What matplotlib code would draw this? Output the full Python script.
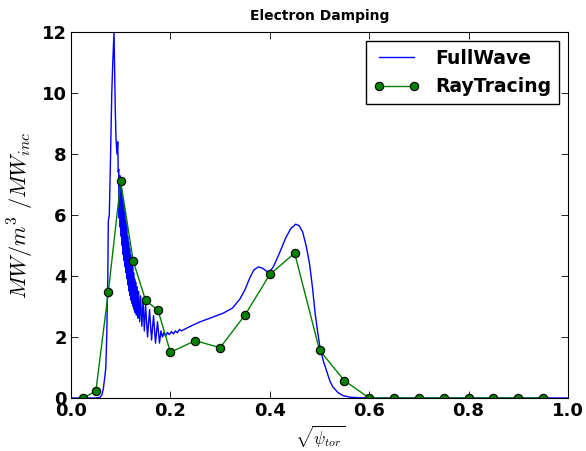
import matplotlib
matplotlib.use('Agg')
import matplotlib.pyplot as plt

plt.rcParams['mathtext.fontset'] = 'cm'

# full-wave power deposition profile (sqrt(psi_tor), MW/m^3/MW_inc)
fw_x = [0.0, 0.05, 0.058, 0.062, 0.065, 0.068, 0.070, 0.072, 0.073, 0.074,
        0.075, 0.077, 0.079, 0.082, 0.084, 0.0865, 0.089, 0.0905, 0.0925, 0.094,
        0.095,
        0.096, 0.097, 0.098, 0.099, 0.100, 0.101, 0.102, 0.103, 0.104, 0.105,
        0.106, 0.107, 0.108, 0.109, 0.110, 0.111, 0.112, 0.113, 0.114, 0.115,
        0.116, 0.117, 0.118, 0.119, 0.120, 0.121, 0.122, 0.123, 0.124, 0.125,
        0.126, 0.127, 0.128, 0.129, 0.130, 0.1315, 0.133, 0.1345, 0.136, 0.138,
        0.140, 0.1425, 0.145, 0.1475, 0.150, 0.154, 0.158, 0.162, 0.166, 0.170,
        0.174, 0.178, 0.181, 0.184, 0.187, 0.190, 0.194, 0.198, 0.202, 0.206,
        0.210, 0.214, 0.218, 0.222,
        0.24, 0.26, 0.28, 0.306, 0.325, 0.34, 0.35, 0.36, 0.368, 0.377,
        0.386, 0.394, 0.40, 0.407, 0.414, 0.422, 0.432, 0.442, 0.452, 0.459,
        0.466, 0.473, 0.480, 0.486, 0.491, 0.496, 0.501, 0.508, 0.515, 0.521,
        0.527, 0.537, 0.547, 0.56, 0.575, 0.6, 0.7, 0.8, 0.9, 1.0]
fw_y = [0.0, 0.0, 0.02, 0.1, 0.3, 0.7, 1.0, 2.1, 3.2, 3.9,
        5.8, 6.0, 7.5, 10.0, 11.0, 12.0, 9.5, 8.5, 8.0, 8.4,
        7.4,
        7.5, 5.9, 7.3, 5.6, 7.0, 5.3, 6.8, 5.0, 6.5, 4.7,
        6.3, 4.5, 6.1, 4.3, 5.8, 4.1, 5.6, 3.9, 5.3, 3.7,
        5.1, 3.5, 4.9, 3.35, 4.7, 3.2, 4.5, 3.1, 4.3, 3.0,
        4.1, 2.9, 3.9, 2.8, 3.8, 2.72, 3.65, 2.62, 3.5, 2.5,
        3.35, 2.35, 3.2, 2.2, 3.05, 2.0, 2.9, 1.9, 2.7, 1.8,
        2.5, 1.8, 2.2, 2.0, 2.15, 2.02, 2.15, 2.08, 2.18, 2.1,
        2.2, 2.14, 2.25, 2.2,
        2.35, 2.5, 2.62, 2.78, 2.95, 3.25, 3.55, 3.95, 4.2, 4.3,
        4.25, 4.15, 4.15, 4.3, 4.55, 4.85, 5.25, 5.55, 5.7, 5.65,
        5.45, 5.0, 4.4, 3.6, 2.8, 2.2, 1.65, 1.2, 0.85, 0.55,
        0.36, 0.18, 0.08, 0.03, 0.01, 0.0, 0.0, 0.0, 0.0, 0.0]

# ray-tracing result
rt_x = [0.025, 0.05, 0.075, 0.1, 0.125, 0.15, 0.175, 0.2, 0.25, 0.3, 0.35,
        0.4, 0.45, 0.5, 0.55, 0.6, 0.65, 0.7, 0.75, 0.8, 0.85, 0.9, 0.95]
rt_y = [0.0, 0.23, 3.47, 7.1, 4.5, 3.2, 2.88, 1.5, 1.88, 1.65, 2.72,
        4.05, 4.75, 1.57, 0.57, 0.0, 0.0, 0.0, 0.0, 0.0, 0.0, 0.0, 0.0]

fig = plt.figure(figsize=(5.86, 4.51), dpi=100)
ax = fig.add_axes([0.1212, 0.1175, 0.8481, 0.8115])

ax.plot(fw_x, fw_y, 'b-', lw=1, label='FullWave')
ax.plot(rt_x, rt_y, 'g-', lw=1, marker='o', markersize=6,
        markerfacecolor='g', markeredgecolor='k', markeredgewidth=0.8,
        label='RayTracing')

ax.set_xlim(0, 1.0)
ax.set_ylim(0, 12)
ax.set_xticks([0.0, 0.2, 0.4, 0.6, 0.8, 1.0])
ax.set_yticks([0, 2, 4, 6, 8, 10, 12])
ax.tick_params(direction='in', top=True, right=True, length=5, width=0.6,
               labelsize=13, pad=3)
for lab in ax.get_xticklabels() + ax.get_yticklabels():
    lab.set_fontweight('bold')

ax.set_title('Electron Damping', fontsize=10, fontweight='bold', pad=9)
ax.set_xlabel(r'$\sqrt{\psi_{tor}}$', fontsize=12, labelpad=3)
ax.set_ylabel(r'$MW/m^3\ /MW_{inc}$', fontsize=16, labelpad=4)

leg = ax.legend(loc='upper right', prop={'weight': 'bold', 'size': 13.5},
                fancybox=False, framealpha=1, edgecolor='k', numpoints=2,
                handlelength=2.5)
leg.get_frame().set_linewidth(1)

fig.savefig('out.png', dpi=100)
